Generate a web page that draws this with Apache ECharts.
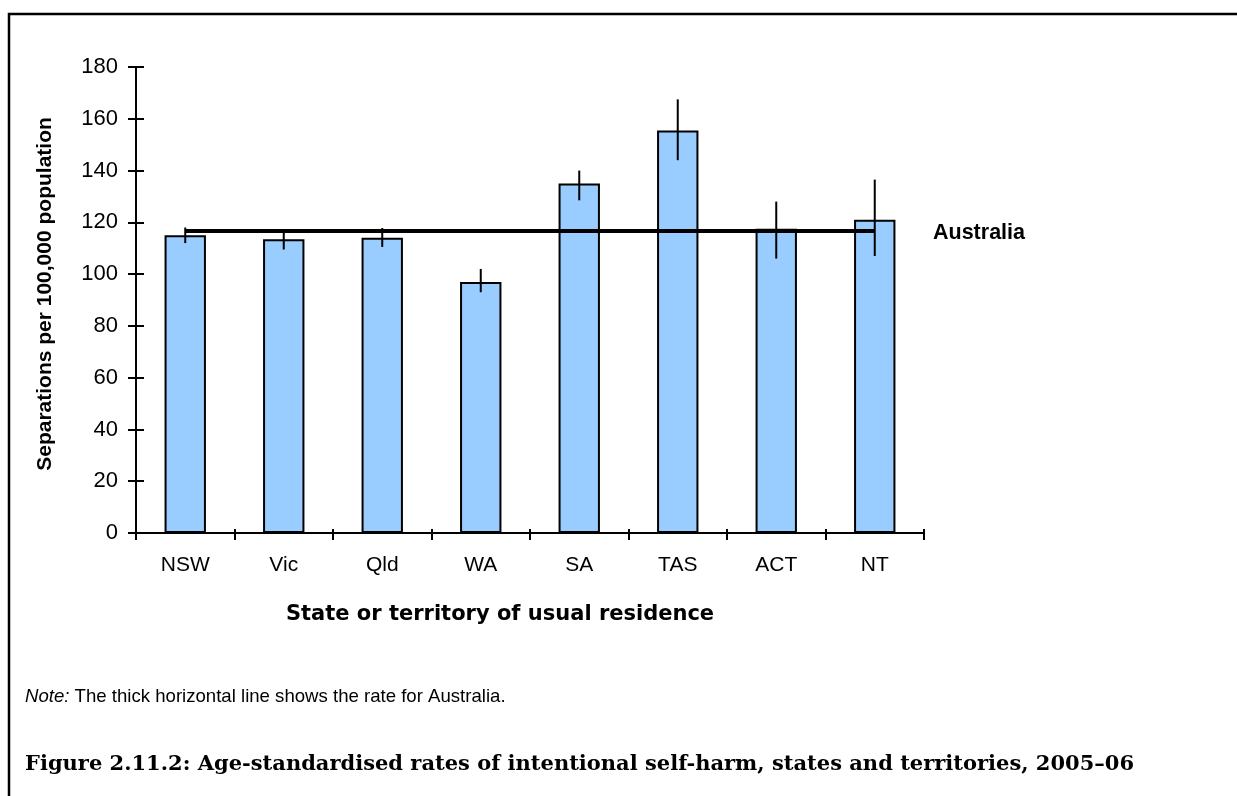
<!DOCTYPE html>
<html>
<head>
<meta charset="utf-8">
<style>
  html, body { margin: 0; padding: 0; background: #fff; }
  #main { width: 1237px; height: 796px; }
</style>
<script src="https://cdn.jsdelivr.net/npm/echarts@6/dist/echarts.min.js"></script>
</head>
<body>
<div id="main"></div>
<script>
// states and territories
var states = ['NSW', 'Vic', 'Qld', 'WA', 'SA', 'TAS', 'ACT', 'NT'];
// age-standardised rate per 100,000
var rates = [115, 113.5, 114, 97, 135, 155.5, 117.5, 121];
// confidence interval ends
var ciLow = [112, 109.5, 110.5, 93, 128.5, 144, 106, 107];
var ciHigh = [118, 117, 117.8, 102, 140, 167.5, 128, 136.5];
var australiaRate = 116.7;
var yTicks = [0, 20, 40, 60, 80, 100, 120, 140, 160, 180];

var errData = states.map(function (s, i) {
    return [i, ciLow[i], ciHigh[i]];
});

var chart = echarts.init(document.getElementById('main'));
var font = 'Liberation Sans, Arial, sans-serif';

var option = {
    animation: false,
    grid: {
        left: 136,
        right: 313,
        top: 67,
        bottom: 263
    },
    xAxis: [{
        type: 'category',
        data: states,
        axisLine: { lineStyle: { color: '#000', width: 2 } },
        axisTick: { show: true, length: 7, lineStyle: { color: '#000', width: 2 } },
        axisLabel: { color: '#000', fontSize: 21, fontFamily: font, margin: 22 },
        name: 'State or territory of usual residence',
        nameLocation: 'middle',
        nameGap: 71,
        nameTextStyle: { color: '#000', fontSize: 21, fontWeight: 'bold', fontFamily: '"DejaVu Sans", sans-serif', padding: [0, 60, 0, 0] }
    }, {
        // inside half of the crossing ticks
        type: 'category',
        data: states,
        position: 'bottom',
        axisLine: { show: false },
        axisTick: { show: true, inside: true, length: 4, lineStyle: { color: '#000', width: 2 } },
        axisLabel: { show: false }
    }],
    yAxis: [{
        type: 'value',
        min: 0,
        max: 180,
        interval: 20,
        axisLine: { show: true, lineStyle: { color: '#000', width: 2 } },
        axisTick: { show: true, length: 8, lineStyle: { color: '#000', width: 2 } },
        splitLine: { show: false },
        axisLabel: {
            color: '#000', fontSize: 22, fontFamily: font, margin: 18,
            formatter: function (v) { return yTicks.indexOf(v) >= 0 ? String(v) : ''; }
        },
        name: 'Separations per 100,000 population',
        nameLocation: 'middle',
        nameGap: 80,
        nameRotate: 90,
        nameTextStyle: { color: '#000', fontSize: 21, fontWeight: 'bold', fontFamily: font, padding: [0, 0, 0, 12] }
    }, {
        type: 'value',
        min: 0,
        max: 180,
        interval: 20,
        position: 'left',
        axisLine: { show: false },
        axisTick: { show: true, inside: true, length: 8, lineStyle: { color: '#000', width: 2 } },
        axisLabel: { show: false },
        splitLine: { show: false }
    }],
    series: [{
        name: 'Rate',
        type: 'bar',
        data: rates,
        barWidth: '42%',
        itemStyle: { color: '#99ccff', borderColor: '#000', borderWidth: 2 },
        z: 2
    }, {
        name: 'Australia',
        type: 'line',
        data: states.map(function () { return australiaRate; }),
        symbol: 'none',
        lineStyle: { color: '#000', width: 4 },
        z: 3
    }, {
        name: 'CI',
        type: 'custom',
        data: errData,
        z: 4,
        renderItem: function (params, api) {
            var p1 = api.coord([api.value(0), api.value(1)]);
            var p2 = api.coord([api.value(0), api.value(2)]);
            return {
                type: 'line',
                shape: { x1: p1[0], y1: p1[1], x2: p2[0], y2: p2[1] },
                style: { stroke: '#000', lineWidth: 2 }
            };
        }
    }],
    graphic: [{
        type: 'rect',
        shape: { x: 9, y: 14, width: 1400, height: 900 },
        style: { fill: 'none', stroke: '#000', lineWidth: 2.5 }
    }, {
        type: 'text',
        left: 933,
        top: 222,
        style: { text: 'Australia', font: 'bold 21.5px ' + font, fill: '#000' }
    }, {
        type: 'text',
        left: 25,
        top: 687,
        style: {
            text: '{i|Note:} The thick horizontal line shows the rate for Australia.',
            font: '18.6px ' + font,
            fill: '#000',
            rich: { i: { fontStyle: 'italic', fontSize: 18.6, fontFamily: font } }
        }
    }, {
        type: 'text',
        left: 25,
        top: 754,
        style: {
            text: 'Figure 2.11.2: Age-standardised rates of intentional self-harm, states and territories, 2005\u201306',
            font: 'bold 21px "DejaVu Serif", "Liberation Serif", serif',
            fill: '#000'
        }
    }]
};
chart.setOption(option);
</script>
</body>
</html>
